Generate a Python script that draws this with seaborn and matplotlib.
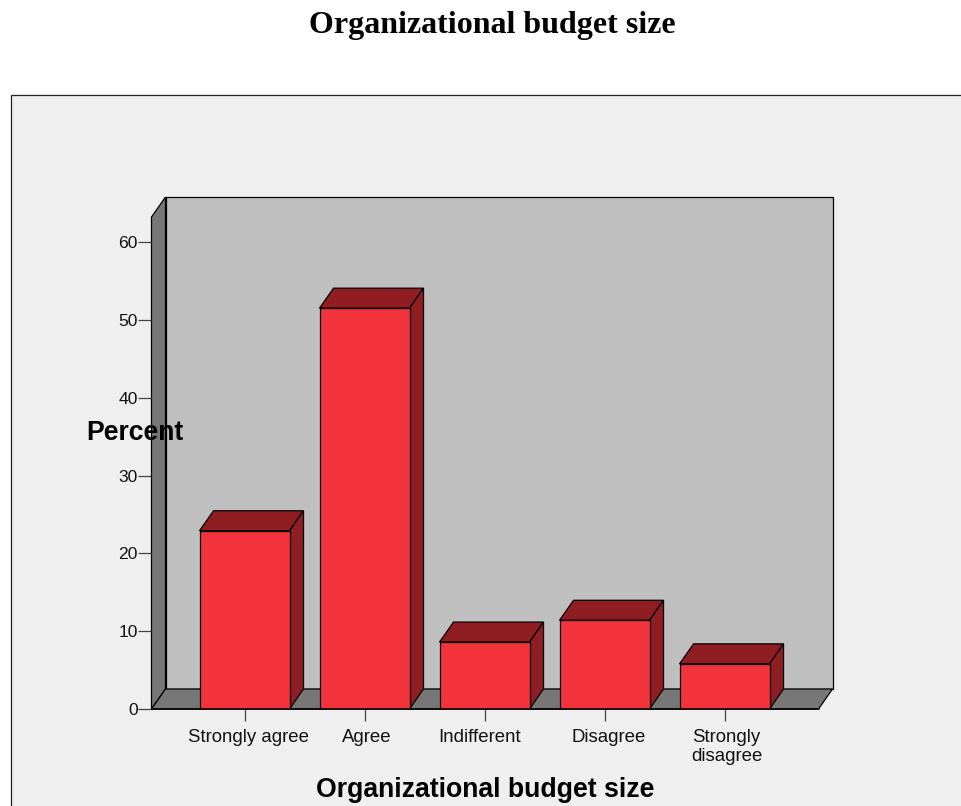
import matplotlib
matplotlib.use("Agg")
import matplotlib.pyplot as plt
from matplotlib.patches import Polygon, Rectangle
from matplotlib.transforms import ScaledTranslation
import pandas as pd
import seaborn as sns

categories = ["Strongly agree", "Agree", "Indifferent", "Disagree", "Strongly\ndisagree"]
percent = [22.9, 51.5, 8.6, 11.4, 5.8]
y_ticks = [0, 10, 20, 30, 40, 50, 60]
title = "Organizational budget size"
x_label = "Organizational budget size"
y_label = "Percent"

W, H = 961, 806
DPI = 100
DX, DY = 14, 20  # depth of the fake 3d box, pixels
LABEL_SHIFT = [4, 2, -5, 4, 2]  # labels sit a bit off their ticks in the original, pixels

BAR = "#F2333B"
BAR_DARK = "#901D22"
WALL = "#BFBFBF"
SIDE = "#777777"
PANEL = "#EFEFEF"

sns.set_theme(style="white")
plt.rcParams["font.family"] = ["Liberation Sans", "DejaVu Sans"]

df = pd.DataFrame({"cat": categories, "pct": percent})

fig = plt.figure(figsize=(W / DPI, H / DPI), dpi=DPI, facecolor="white")


def px(v):
    return v / W


def py(v):
    return 1 - v / H


# grey panel behind the chart
fig.add_artist(Rectangle((px(11), -0.01), 1.01 - px(11), py(95) + 0.01, transform=fig.transFigure,
                         facecolor=PANEL, edgecolor="#222222", linewidth=0.9, zorder=-1))

# front plane of the box: 152..819 px across, y=0 at 709 px, 7.783 px per percent
ax = fig.add_axes([px(151.5), py(709), px(819 - 152), (709 - 217) / H])
ax.patch.set_alpha(0)
sns.barplot(data=df, x="cat", y="pct", color=BAR, width=0.75, saturation=1,
            edgecolor="black", linewidth=0.9, ax=ax, zorder=5)
ax.set_xlim(-0.775, 4.783)
ax.set_ylim(0, (709 - 217) / 7.783)

# offset transform pushes a point back into the depth of the box
back = ax.transData + ScaledTranslation(DX / DPI, DY / DPI, fig.dpi_scale_trans)
x0, x1 = ax.get_xlim()
y1 = ax.get_ylim()[1]


def skew_poly(front, rear, color, zorder):
    # front points in data coords, rear points pushed back by the depth
    a = [ax.transData.transform(p) for p in front]
    b = [back.transform(p) for p in rear]
    ax.add_patch(Polygon(a + b, closed=True, transform=None, facecolor=color,
                         edgecolor="black", linewidth=0.9, zorder=zorder, clip_on=False))


# back wall, left wall, floor
skew_poly([], [(x0, 0), (x1, 0), (x1, y1), (x0, y1)], WALL, 1)
skew_poly([(x0, 0), (x0, y1)], [(x0, y1), (x0, 0)], SIDE, 2)
skew_poly([(x0, 0), (x1, 0)], [(x1, 0), (x0, 0)], SIDE, 2)

# top and side faces of the bars
for bar in ax.patches[:len(percent)]:
    left, right = bar.get_x(), bar.get_x() + bar.get_width()
    top = bar.get_height()
    skew_poly([(left, top), (right, top)], [(right, top), (left, top)], BAR_DARK, 4)
    skew_poly([(right, 0), (right, top)], [(right, top), (right, 0)], BAR_DARK, 4)

sns.despine(ax=ax, left=True, right=True, top=True, bottom=True)
ax.plot([x0, x1], [0, 0], color="black", lw=1.1, zorder=6, clip_on=False)

ax.set_yticks(y_ticks)
ax.tick_params(axis="y", length=10, width=0.9, color="#444444", labelsize=12.6, pad=0, left=True, labelcolor="#111111")
ax.tick_params(axis="x", length=8.6, width=0.9, color="#444444", labelsize=13.4, pad=5.5, bottom=True, labelcolor="#111111")
for lab, shift in zip(ax.get_xticklabels(), LABEL_SHIFT):
    lab.set_linespacing(1.15)
    lab.set_transform(lab.get_transform() + ScaledTranslation(shift / DPI, 0, fig.dpi_scale_trans))
ax.set_xlabel("")
ax.set_ylabel("")

fig.text(px(135), py(433), y_label, fontsize=19.2, fontweight="bold", ha="center", va="center", color="black", zorder=10)
fig.text(px(485), py(790), x_label, fontsize=19.2, fontweight="bold", ha="center", va="center", color="black")
fig.text(px(492), py(26), title, fontsize=23, fontweight="bold", family="Liberation Serif",
         ha="center", va="center", color="black")

fig.savefig("out.png", dpi=DPI)
